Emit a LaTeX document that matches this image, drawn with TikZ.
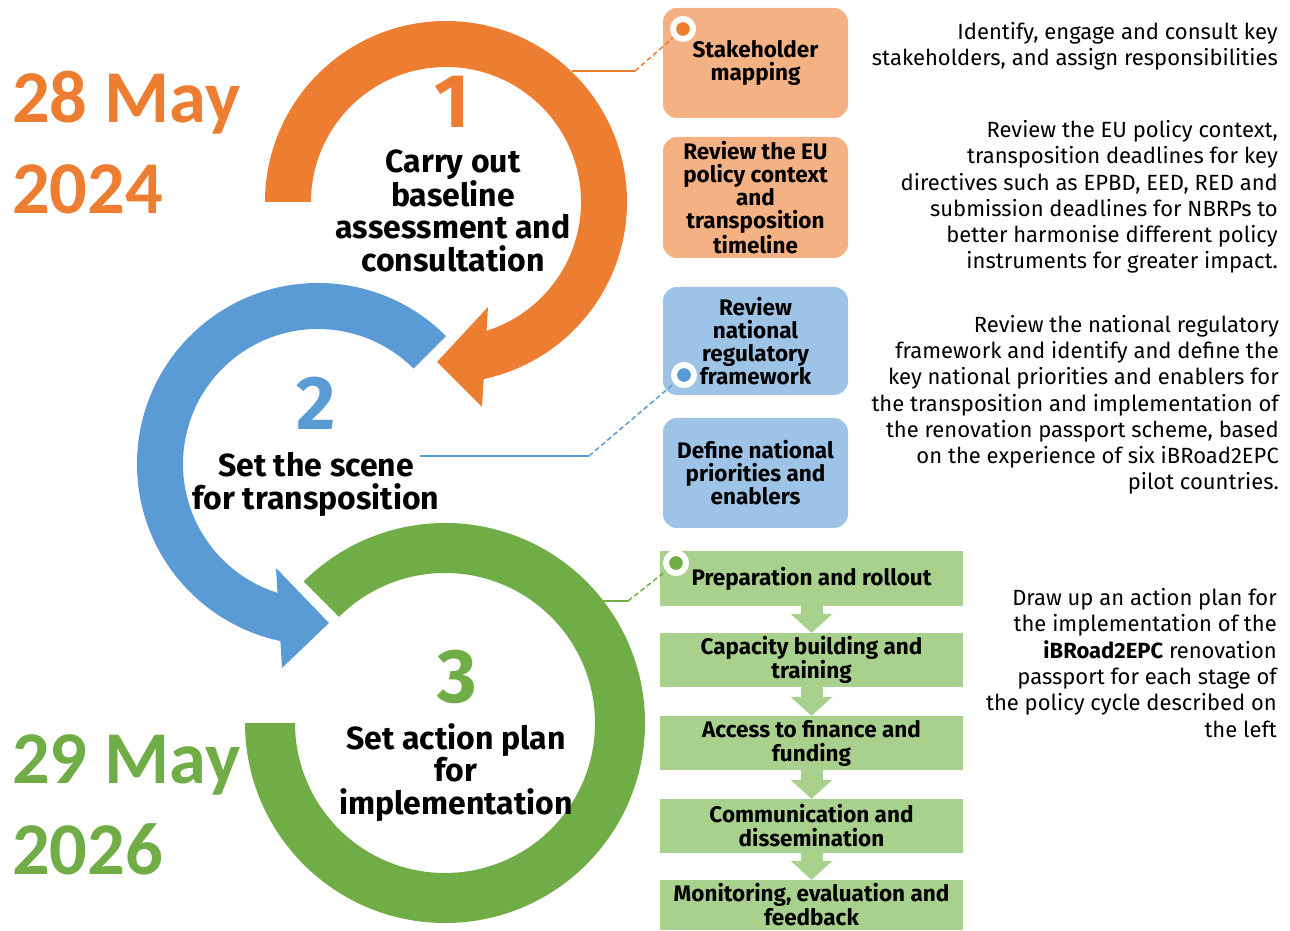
\documentclass[tikz,border=0pt]{standalone}
\usepackage{fontspec}
\setmainfont{Fira Sans}
\newfontfamily\datefont{Carlito}
\usetikzlibrary{arrows.meta}

\definecolor{ringorange}{HTML}{ED7D31}
\definecolor{ringblue}{HTML}{5B9BD5}
\definecolor{ringgreen}{HTML}{70AD47}
\definecolor{boxorange}{HTML}{F4B183}
\definecolor{boxblue}{HTML}{9DC3E6}
\definecolor{boxgreen}{HTML}{A9D18E}

\newcommand{\numfont}{\fontsize{76}{76}\selectfont\bfseries}
\newcommand{\ringfont}{\fontsize{32}{32.5}\selectfont\bfseries}
\newcommand{\boxfont}{\fontsize{22.5}{23}\selectfont\bfseries}
\newcommand{\planfont}{\fontsize{22.5}{24}\selectfont\bfseries}
\newcommand{\notefont}{\fontsize{22}{26.3}\selectfont}
\newcommand{\datesize}{\datefont\fontsize{74.5}{91}\selectfont\bfseries}

\begin{document}
\begin{tikzpicture}[x=1pt,y=1pt,
    stepbox/.style={rounded corners=14pt, minimum width=185pt, align=center, inner sep=0pt, font=\boxfont},
    planbox/.style={fill=boxgreen, minimum width=303pt, minimum height=54pt, align=center, inner sep=0pt, font=\planfont},
    note/.style={anchor=base east, align=right, inner sep=0pt, font=\notefont},
    dot/.style={circle, draw=white, line width=6pt, fill=#1, minimum size=20pt, inner sep=0pt},
    link/.style={line width=1.5pt, #1},
    flow/.style={boxgreen, line width=22pt, -{Triangle[width=42pt, length=19pt, line width=0pt]}}]
  \useasboundingbox (0,0) rectangle (1290,930);

  % the three rings
  \fill[ringorange, shift={(446,728)}] (180:181) arc[start angle=180, end angle=-80, radius=181]
    -- (-80:135) arc[start angle=-80, end angle=180, radius=135] -- cycle;
  \fill[ringorange] (488,623) -- (437,568) -- (482,523) -- cycle;
  \fill[ringblue, shift={(318,466)}] (45:181) arc[start angle=45, end angle=261, radius=181]
    -- (261:135) arc[start angle=261, end angle=45, radius=135] -- cycle;
  \fill[ringblue] (276,362) -- (329,307) -- (282,262) -- cycle;
  \fill[ringgreen, shift={(445,207)}] (180:200) arc[start angle=180, end angle=495, radius=200]
    -- (495:150) arc[start angle=495, end angle=180, radius=150] -- cycle;

  \node[anchor=base, font=\numfont, text=ringorange] (n1) at (452,802) {1};
  \node[anchor=base, font=\ringfont, align=center] (t1) at (453,658.5) {Carry out\\baseline\\assessment and\\consultation};
  \node[anchor=base, font=\numfont, text=ringblue] (n2) at (316,500) {2};
  \node[anchor=base, font=\ringfont, align=center] (t2) at (316,420.5) {Set the scene\\for transposition};
  \node[anchor=base, font=\ringfont, align=center] (t3) at (456,116) {Set action plan\\for\\implementation};
  \node[anchor=base, font=\numfont, text=ringgreen] (n3) at (457,228) {3};

  % dates
  \node[anchor=base west, align=left, inner sep=0pt, font=\datesize, text=ringorange] (may24) at (12,716) {28 May\\2024};
  \node[anchor=base west, align=left, inner sep=0pt, font=\datesize, text=ringgreen] (may26) at (12,56) {29 May\\2026};

  % steps
  \node[stepbox, fill=boxorange, minimum height=110pt] (sm) at (755.5,867) {Stakeholder\\mapping};
  \node[stepbox, fill=boxorange, minimum height=121pt] (eu) at (755.5,732.5) {Review the EU\\policy context\\and\\transposition\\timeline};
  \node[stepbox, fill=boxblue, minimum height=108pt] (nrf) at (755.5,589) {Review\\national\\regulatory\\framework};
  \node[stepbox, fill=boxblue, minimum height=110pt] (npe) at (755.5,457) {Define national\\priorities and\\enablers};

  \node[planbox] (g1) at (811.5,351.5) {Preparation and rollout};
  \node[planbox] (g2) at (811.5,270) {Capacity building and\\training};
  \node[planbox] (g3) at (811.5,187) {Access to finance and\\funding};
  \node[planbox] (g4) at (811.5,104) {Communication and\\dissemination};
  \node[planbox, minimum height=50pt] (g5) at (811.5,25) {Monitoring, evaluation and\\feedback};
  \foreach \a/\b in {g1/g2,g2/g3,g3/g4,g4/g5}
    \draw[flow] (\a) -- (\b);

  % links from rings to steps
  \node[dot=ringorange] (d1) at (683,901) {};
  \node[dot=ringblue] (d2) at (684,555) {};
  \node[dot=ringgreen] (d3) at (676,367) {};
  \coordinate (c1) at (572,859);
  \coordinate (k1) at (635,859);
  \coordinate (c2) at (420,474);
  \coordinate (k2) at (589,474);
  \coordinate (c3) at (602,329);
  \coordinate (k3) at (628,329);
  \draw[link=ringorange] (c1) -- (k1);
  \draw[link=ringorange, dash pattern=on 5pt off 3pt] (k1) -- (d1);
  \draw[link=ringblue] (c2) -- (k2);
  \draw[link=ringblue, dash pattern=on 5pt off 3pt] (k2) -- (d2);
  \draw[link=ringgreen] (c3) -- (k3);
  \draw[link=ringgreen, dash pattern=on 5pt off 3pt] (k3) -- (d3);

  % notes
  \node[note] (s1) at (1278,864) {Identify, engage and consult key\\stakeholders, and assign responsibilities};
  \node[note] (s2) at (1278,661) {Review the EU policy context,\\transposition deadlines for key\\directives such as EPBD, EED, RED and\\submission deadlines for NBRPs to\\better harmonise different policy\\instruments for greater impact.};
  \node[note] (s3) at (1279,440) {Review the national regulatory\\framework and identify and define the\\key national priorities and enablers for\\the transposition and implementation of\\the renovation passport scheme, based\\on the experience of six iBRoad2EPC\\pilot countries.};
  \node[note] (s4) at (1277,193) {Draw up an action plan for\\the implementation of the\\\textbf{iBRoad2EPC} renovation\\passport for each stage of\\the policy cycle described on\\the left};
\end{tikzpicture}
\end{document}
